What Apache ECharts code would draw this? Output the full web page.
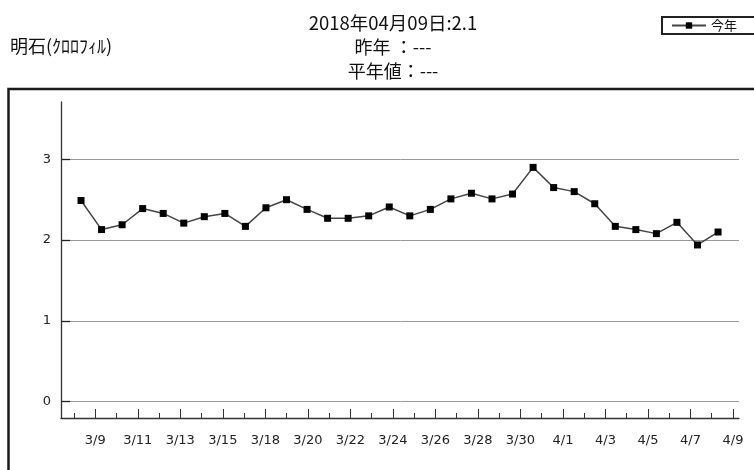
<!DOCTYPE html>
<html>
<head>
<meta charset="utf-8">
<script src="https://cdn.jsdelivr.net/npm/echarts@6/dist/echarts.min.js"></script>
<style>
html,body{margin:0;padding:0;background:#fff;}
#report{width:754px;height:470px;}
</style>
</head>
<body>
<div id="report"></div>
<script>
// 日付（3/16 は欠測）
var dates = ['3/8','3/9','3/10','3/11','3/12','3/13','3/14','3/15','3/17','3/18','3/19','3/20','3/21','3/22','3/23','3/24',
             '3/25','3/26','3/27','3/28','3/29','3/30','3/31','4/1','4/2','4/3','4/4','4/5','4/6','4/7','4/8','4/9'];
// 今年の値
var thisYear = [2.49,2.13,2.19,2.39,2.33,2.21,2.29,2.33,2.17,2.40,2.50,2.38,2.27,2.27,2.30,2.41,
                2.30,2.38,2.51,2.58,2.51,2.57,2.90,2.65,2.60,2.45,2.17,2.13,2.08,2.22,1.94,2.10];
var yTicks = [0, 1, 2, 3];
var titleLines = ['2018年04月09日:2.1', '昨年 ：---', '平年値：---'];
var stationName = '明石(ｸﾛﾛﾌｨﾙ)';
var seriesName = '今年';

var cjk = '"Noto Sans CJK JP", sans-serif';
var lat = '"DejaVu Sans", Verdana, sans-serif';

var seriesData = [];
for (var i = 0; i < thisYear.length; i++) {
    seriesData.push([i, thisYear[i]]);
}

var myChart = echarts.init(document.getElementById('report'), null, {renderer: 'canvas'});
var option = {
    backgroundColor: '#fff',
    animation: false,
    graphic: [{
        type: 'rect',
        shape: {x: 8.5, y: 89, width: 800, height: 500},
        style: {fill: 'none', stroke: '#1a1a1a', lineWidth: 2.5},
        silent: true
    }],
    title: [{
        text: '{a|' + titleLines[0] + '}\n{b|' + titleLines[1] + '}\n{b|' + titleLines[2] + '}',
        left: 388,
        top: 6,
        textAlign: 'center',
        textStyle: {
            fontWeight: 'normal',
            rich: {
                a: {fontFamily: cjk, fontSize: 18.5, fontWeight: 'normal', lineHeight: 24, color: '#111'},
                b: {fontFamily: cjk, fontSize: 18, fontWeight: 'normal', lineHeight: 24, color: '#111'}
            }
        }
    }, {
        text: stationName,
        left: 5,
        top: 32,
        textStyle: {fontFamily: cjk, fontSize: 18, fontWeight: 'normal', color: '#111'}
    }],
    legend: {
        data: [seriesName],
        left: 662,
        top: 17,
        padding: [1, 100, 1, 9],
        itemWidth: 34,
        itemHeight: 8,
        borderColor: '#222',
        borderWidth: 2,
        textStyle: {fontFamily: cjk, fontSize: 13, lineHeight: 15, color: '#111'}
    },
    grid: [
        {left: 62, right: 15, top: 159.3, bottom: 68.3},   // データ
        {left: 61, right: 15, top: 102, bottom: 52},       // 軸線
        {left: 74, right: 21, top: 102, bottom: 52}        // 目盛
    ],
    xAxis: [{
        gridIndex: 0, type: 'value', min: -0.925, max: 32.02, show: false
    }, {
        gridIndex: 1, type: 'value', min: 0, max: 1,
        axisLine: {show: true, onZero: false, lineStyle: {color: '#333', width: 1.3}},
        axisTick: {show: false}, axisLabel: {show: false}, splitLine: {show: false}
    }, {
        gridIndex: 2, type: 'category', data: dates, boundaryGap: false, position: 'bottom',
        axisLine: {show: false, onZero: false},
        axisTick: {show: true, inside: true, length: 5, interval: 0, lineStyle: {color: '#333'}},
        axisLabel: {
            margin: 16, fontFamily: lat, fontSize: 13, color: '#222',
            interval: function (idx) { return idx % 2 === 1; }
        },
        splitLine: {show: false}
    }, {
        gridIndex: 2, type: 'category', data: dates, boundaryGap: false, position: 'bottom',
        axisLine: {show: false, onZero: false},
        axisTick: {show: true, inside: true, length: 9,
            interval: function (idx) { return idx % 2 === 1; }, lineStyle: {color: '#333'}},
        axisLabel: {show: false},
        splitLine: {show: false}
    }],
    yAxis: [{
        gridIndex: 0, type: 'value', min: yTicks[0], max: yTicks[yTicks.length - 1], interval: 1,
        position: 'left', z: 4,
        axisLine: {show: false, onZero: false},
        axisTick: {show: true, inside: true, length: 8, lineStyle: {color: '#222', width: 1.3}},
        axisLabel: {margin: 11, fontFamily: lat, fontSize: 13, color: '#222'},
        splitLine: {show: false}
    }, {
        gridIndex: 1, type: 'value', min: 0, max: 1,
        axisLine: {show: true, onZero: false, lineStyle: {color: '#333', width: 1.3}},
        axisTick: {show: false}, axisLabel: {show: false}, splitLine: {show: false}
    }, {
        gridIndex: 2, type: 'value', show: false
    }, {
        // 目盛線（目盛の下に描く）
        gridIndex: 0, type: 'value', min: yTicks[0], max: yTicks[yTicks.length - 1], interval: 1,
        position: 'left', z: 1,
        axisLine: {show: false, onZero: false},
        axisTick: {show: false}, axisLabel: {show: false},
        splitLine: {show: true, lineStyle: {color: '#999', width: 1}}
    }],
    series: [{
        name: seriesName,
        type: 'line',
        xAxisIndex: 0,
        yAxisIndex: 0,
        data: seriesData,
        symbol: 'rect',
        symbolSize: 7,
        clip: false,
        z: 5,
        lineStyle: {color: '#444', width: 1.5},
        itemStyle: {color: '#000', borderWidth: 0}
    }]
};
myChart.setOption(option);
</script>
</body>
</html>
